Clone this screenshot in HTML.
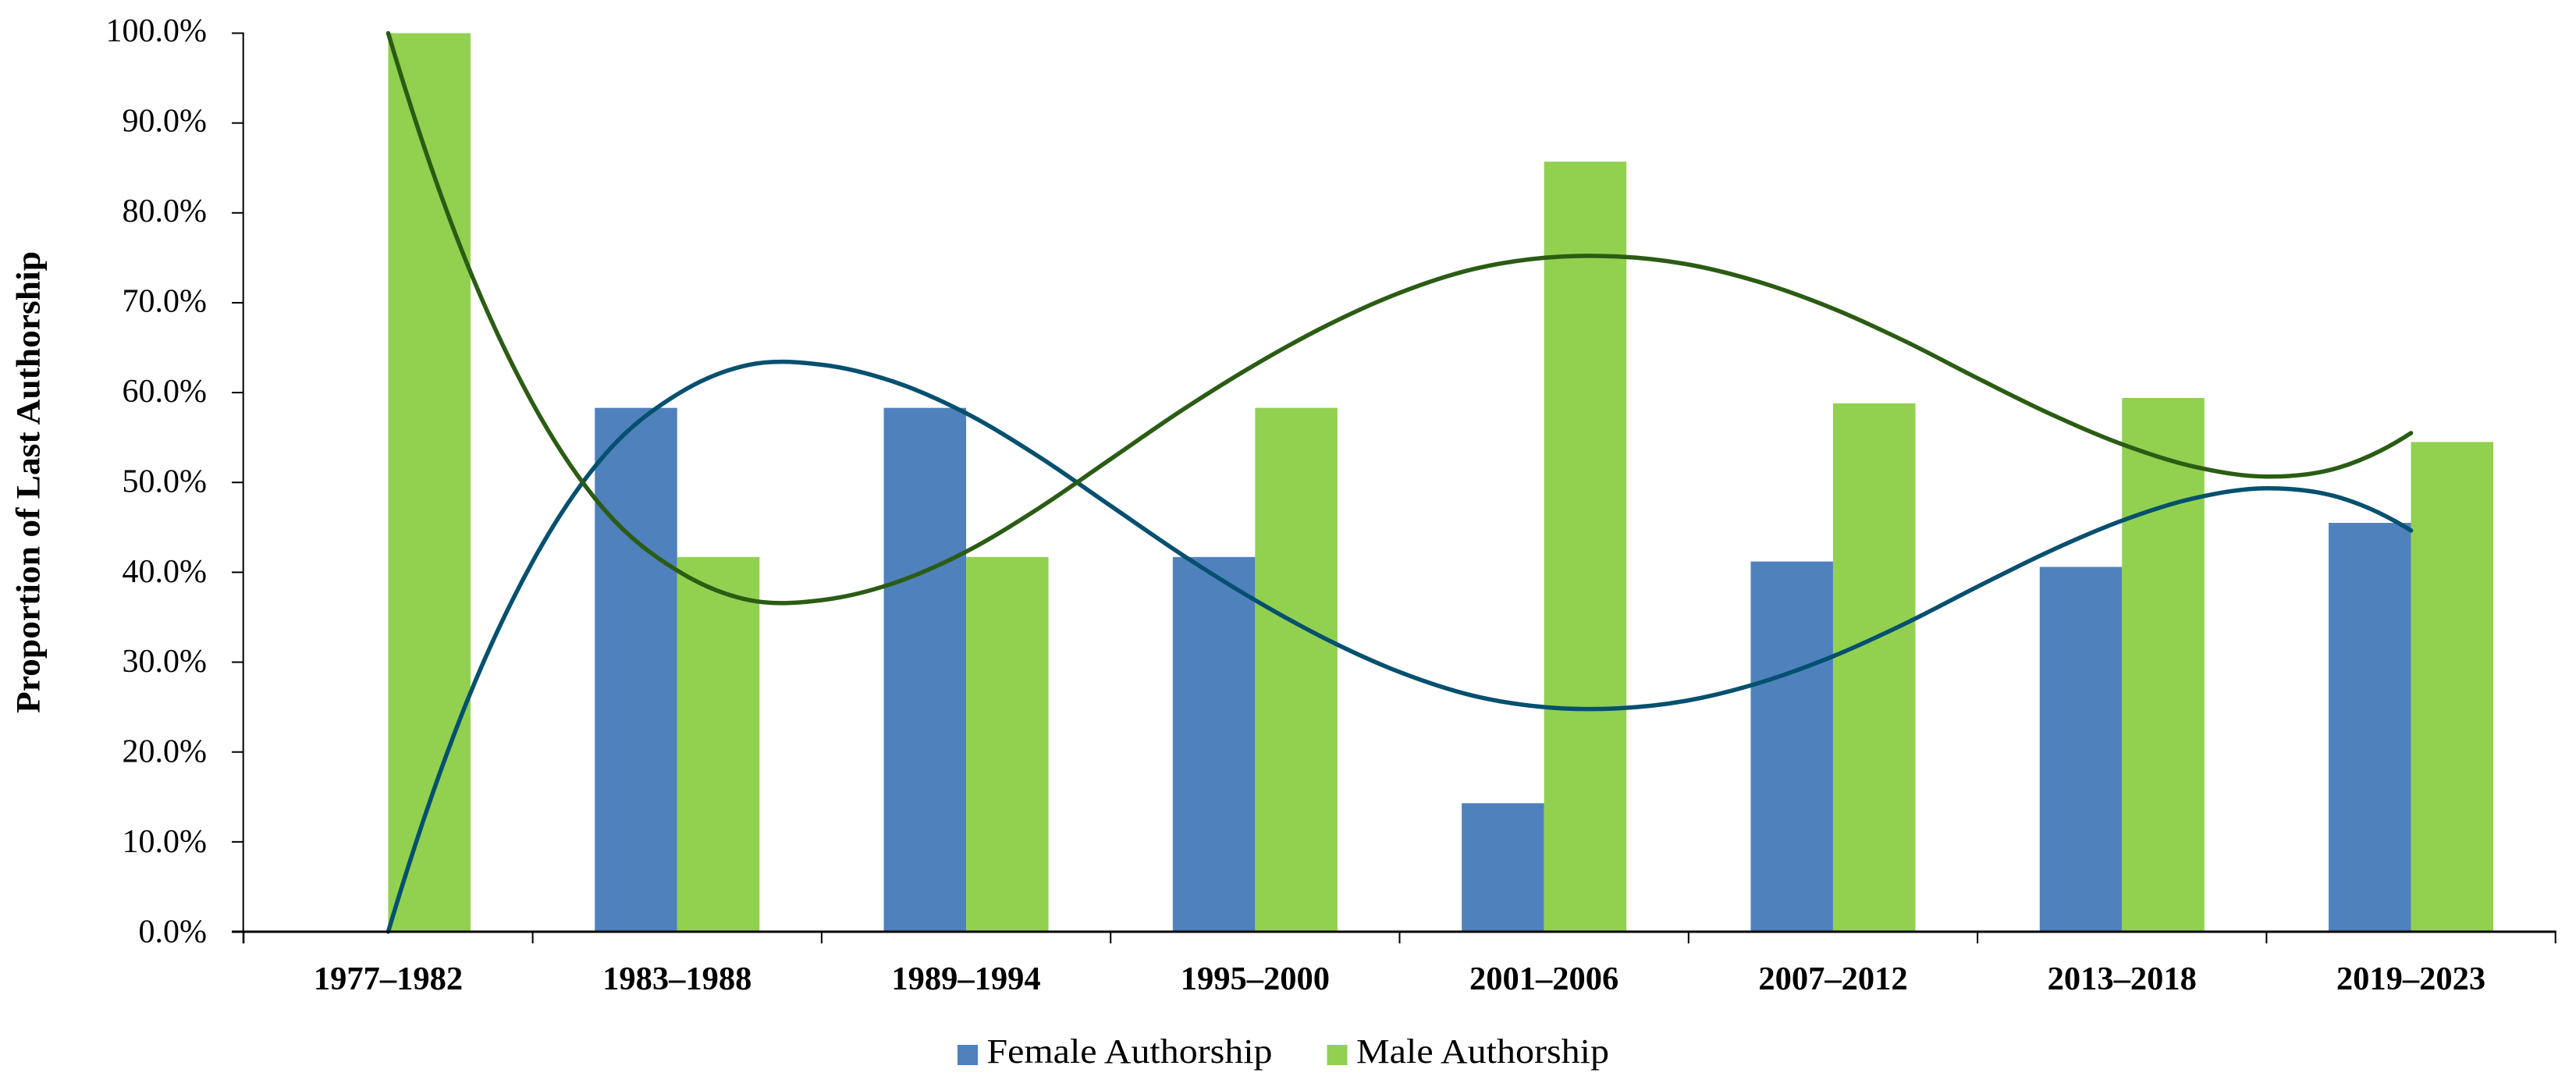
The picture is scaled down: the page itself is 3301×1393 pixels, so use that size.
<!DOCTYPE html>
<html lang="en">
<head>
<meta charset="utf-8">
<title>Proportion of Last Authorship</title>
<style>
html,body{margin:0;padding:0;background:#fff;width:3301px;height:1393px;overflow:hidden}
svg{display:block}
text{font-family:"Liberation Serif",serif;fill:#000}
</style>
</head>
<body>
<svg id="chart" xmlns="http://www.w3.org/2000/svg" width="3301" height="1393" viewBox="0 0 3301 1393">
  <rect x="0" y="0" width="3301" height="1393" fill="#ffffff"/>
  <g id="bars"></g>
  <g id="trends"></g>
  <g id="axes"></g>
  <text transform="translate(50.5,618) rotate(-90)" text-anchor="middle" font-size="43" font-weight="bold" textLength="592" lengthAdjust="spacingAndGlyphs">Proportion of Last Authorship</text>
  <g>
    <g>
      <rect x="1227" y="1339" width="26" height="26" fill="#4f81bd"/>
      <text x="1264.5" y="1362" font-size="44" textLength="366" lengthAdjust="spacingAndGlyphs">Female Authorship</text>
    </g>
    <g>
      <rect x="1700.5" y="1339" width="26" height="26" fill="#92d050"/>
      <text x="1738" y="1362" font-size="44" textLength="324" lengthAdjust="spacingAndGlyphs">Male Authorship</text>
    </g>
  </g>
</svg>
<script>
var categories = ['1977–1982','1983–1988','1989–1994','1995–2000','2001–2006','2007–2012','2013–2018','2019–2023'];
var femaleValues = [0, 58.3, 58.3, 41.7, 14.3, 41.2, 40.6, 45.5];
var maleValues = [100, 41.7, 41.7, 58.3, 85.7, 58.8, 59.4, 54.5];
var yTickValues = [0,10,20,30,40,50,60,70,80,90,100];
var yTickLabels = ['0.0%','10.0%','20.0%','30.0%','40.0%','50.0%','60.0%','70.0%','80.0%','90.0%','100.0%'];
/* trendline readings, one every quarter category from the first category centre to the last */
var femaleTrend = [0, 23.8, 41.2, 53.1, 59.8, 63.1, 63.1, 61.2, 57.7, 52.9, 47.4, 41.9, 36.9, 32.5, 28.9, 26.3, 25.0, 24.85, 25.75, 27.75, 30.65, 34.3, 38.4, 42.35, 45.75, 48.25, 49.35, 48.35, 44.65];
var maleTrend = [100, 76.2, 58.8, 46.9, 40.2, 36.9, 36.9, 38.8, 42.3, 47.1, 52.6, 58.1, 63.1, 67.5, 71.1, 73.7, 75.0, 75.15, 74.25, 72.25, 69.35, 65.7, 61.6, 57.65, 54.25, 51.75, 50.65, 51.65, 55.5];

var NS = 'http://www.w3.org/2000/svg';
var plotLeft = 312.3, bandStep = 370.3, barWidth = 105.5;
var baseY = 1194, pxPerUnit = 11.515, trendStep = 0.25;

function xBandEdge(i){ return plotLeft + bandStep * i; }
function xCenter(i){ return plotLeft + bandStep * (i + 0.5); }
function yScale(v){ return baseY - v * pxPerUnit; }
function make(tag, attrs, parent){
  var el = document.createElementNS(NS, tag);
  for (var k in attrs) el.setAttribute(k, attrs[k]);
  parent.appendChild(el);
  return el;
}
function phantom(a, b, c){ return [3 * a[0] - 3 * b[0] + c[0], 3 * a[1] - 3 * b[1] + c[1]]; }
function smoothPath(values){
  var pts = values.map(function(v, i){ return [xCenter(i * trendStep), yScale(v)]; });
  var n = pts.length;
  var d = 'M' + pts[0][0].toFixed(2) + ' ' + pts[0][1].toFixed(2);
  for (var i = 0; i < n - 1; i++){
    var p0 = i > 0 ? pts[i - 1] : phantom(pts[0], pts[1], pts[2]);
    var p1 = pts[i], p2 = pts[i + 1];
    var p3 = i + 2 < n ? pts[i + 2] : phantom(pts[n - 1], pts[n - 2], pts[n - 3]);
    var c1x = p1[0] + (p2[0] - p0[0]) / 6, c1y = p1[1] + (p2[1] - p0[1]) / 6;
    var c2x = p2[0] - (p3[0] - p1[0]) / 6, c2y = p2[1] - (p3[1] - p1[1]) / 6;
    d += 'C' + c1x.toFixed(2) + ' ' + c1y.toFixed(2) + ' ' + c2x.toFixed(2) + ' ' + c2y.toFixed(2) + ' ' + p2[0].toFixed(2) + ' ' + p2[1].toFixed(2);
  }
  return d;
}

var barsG = document.getElementById('bars');
var trendsG = document.getElementById('trends');
var axesG = document.getElementById('axes');

categories.forEach(function(cat, i){
  var fem = make('rect', {x: xCenter(i) - barWidth, y: yScale(femaleValues[i]), width: barWidth, height: baseY - yScale(femaleValues[i]), fill: '#4f81bd'}, barsG);
  
  
  var mal = make('rect', {x: xCenter(i), y: yScale(maleValues[i]), width: barWidth, height: baseY - yScale(maleValues[i]), fill: '#92d050'}, barsG);
  
  
});

var femaleLine = make('path', {d: smoothPath(femaleTrend), fill: 'none', stroke: '#04506f', 'stroke-width': 5.5, 'stroke-linecap': 'round', 'stroke-linejoin': 'round'}, trendsG);


var maleLine = make('path', {d: smoothPath(maleTrend), fill: 'none', stroke: '#2b5c14', 'stroke-width': 5.5, 'stroke-linecap': 'round', 'stroke-linejoin': 'round'}, trendsG);



var yAxisLine = make('line', {x1: 311.7, x2: 311.7, y1: yScale(100) - 1, y2: baseY + 15, stroke: '#000', 'stroke-width': 2}, axesG);


var xAxisLine = make('line', {x1: 297, x2: xBandEdge(categories.length) + 1, y1: baseY, y2: baseY, stroke: '#000', 'stroke-width': 3}, axesG);



yTickValues.forEach(function(v, i){
  var tick = make('line', {x1: 297, x2: 312, y1: yScale(v), y2: yScale(v), stroke: '#000', 'stroke-width': 2}, axesG);
  
  
  var label = make('text', {x: 265, y: yScale(v) + 13.5 - v * 0.028, 'text-anchor': 'end', 'font-size': 42}, axesG);
  
  
  label.textContent = yTickLabels[i];
});

for (var e = 0; e <= categories.length; e++){
  var xt = make('line', {x1: xBandEdge(e), x2: xBandEdge(e), y1: baseY, y2: baseY + 15, stroke: '#000', 'stroke-width': 2}, axesG);
  
  
}

categories.forEach(function(cat, i){
  var lab = make('text', {x: xCenter(i), y: 1268, 'text-anchor': 'middle', 'font-size': 42.5, 'font-weight': 'bold'}, axesG);
  
  
  lab.textContent = cat;
});
</script>
</body>
</html>
